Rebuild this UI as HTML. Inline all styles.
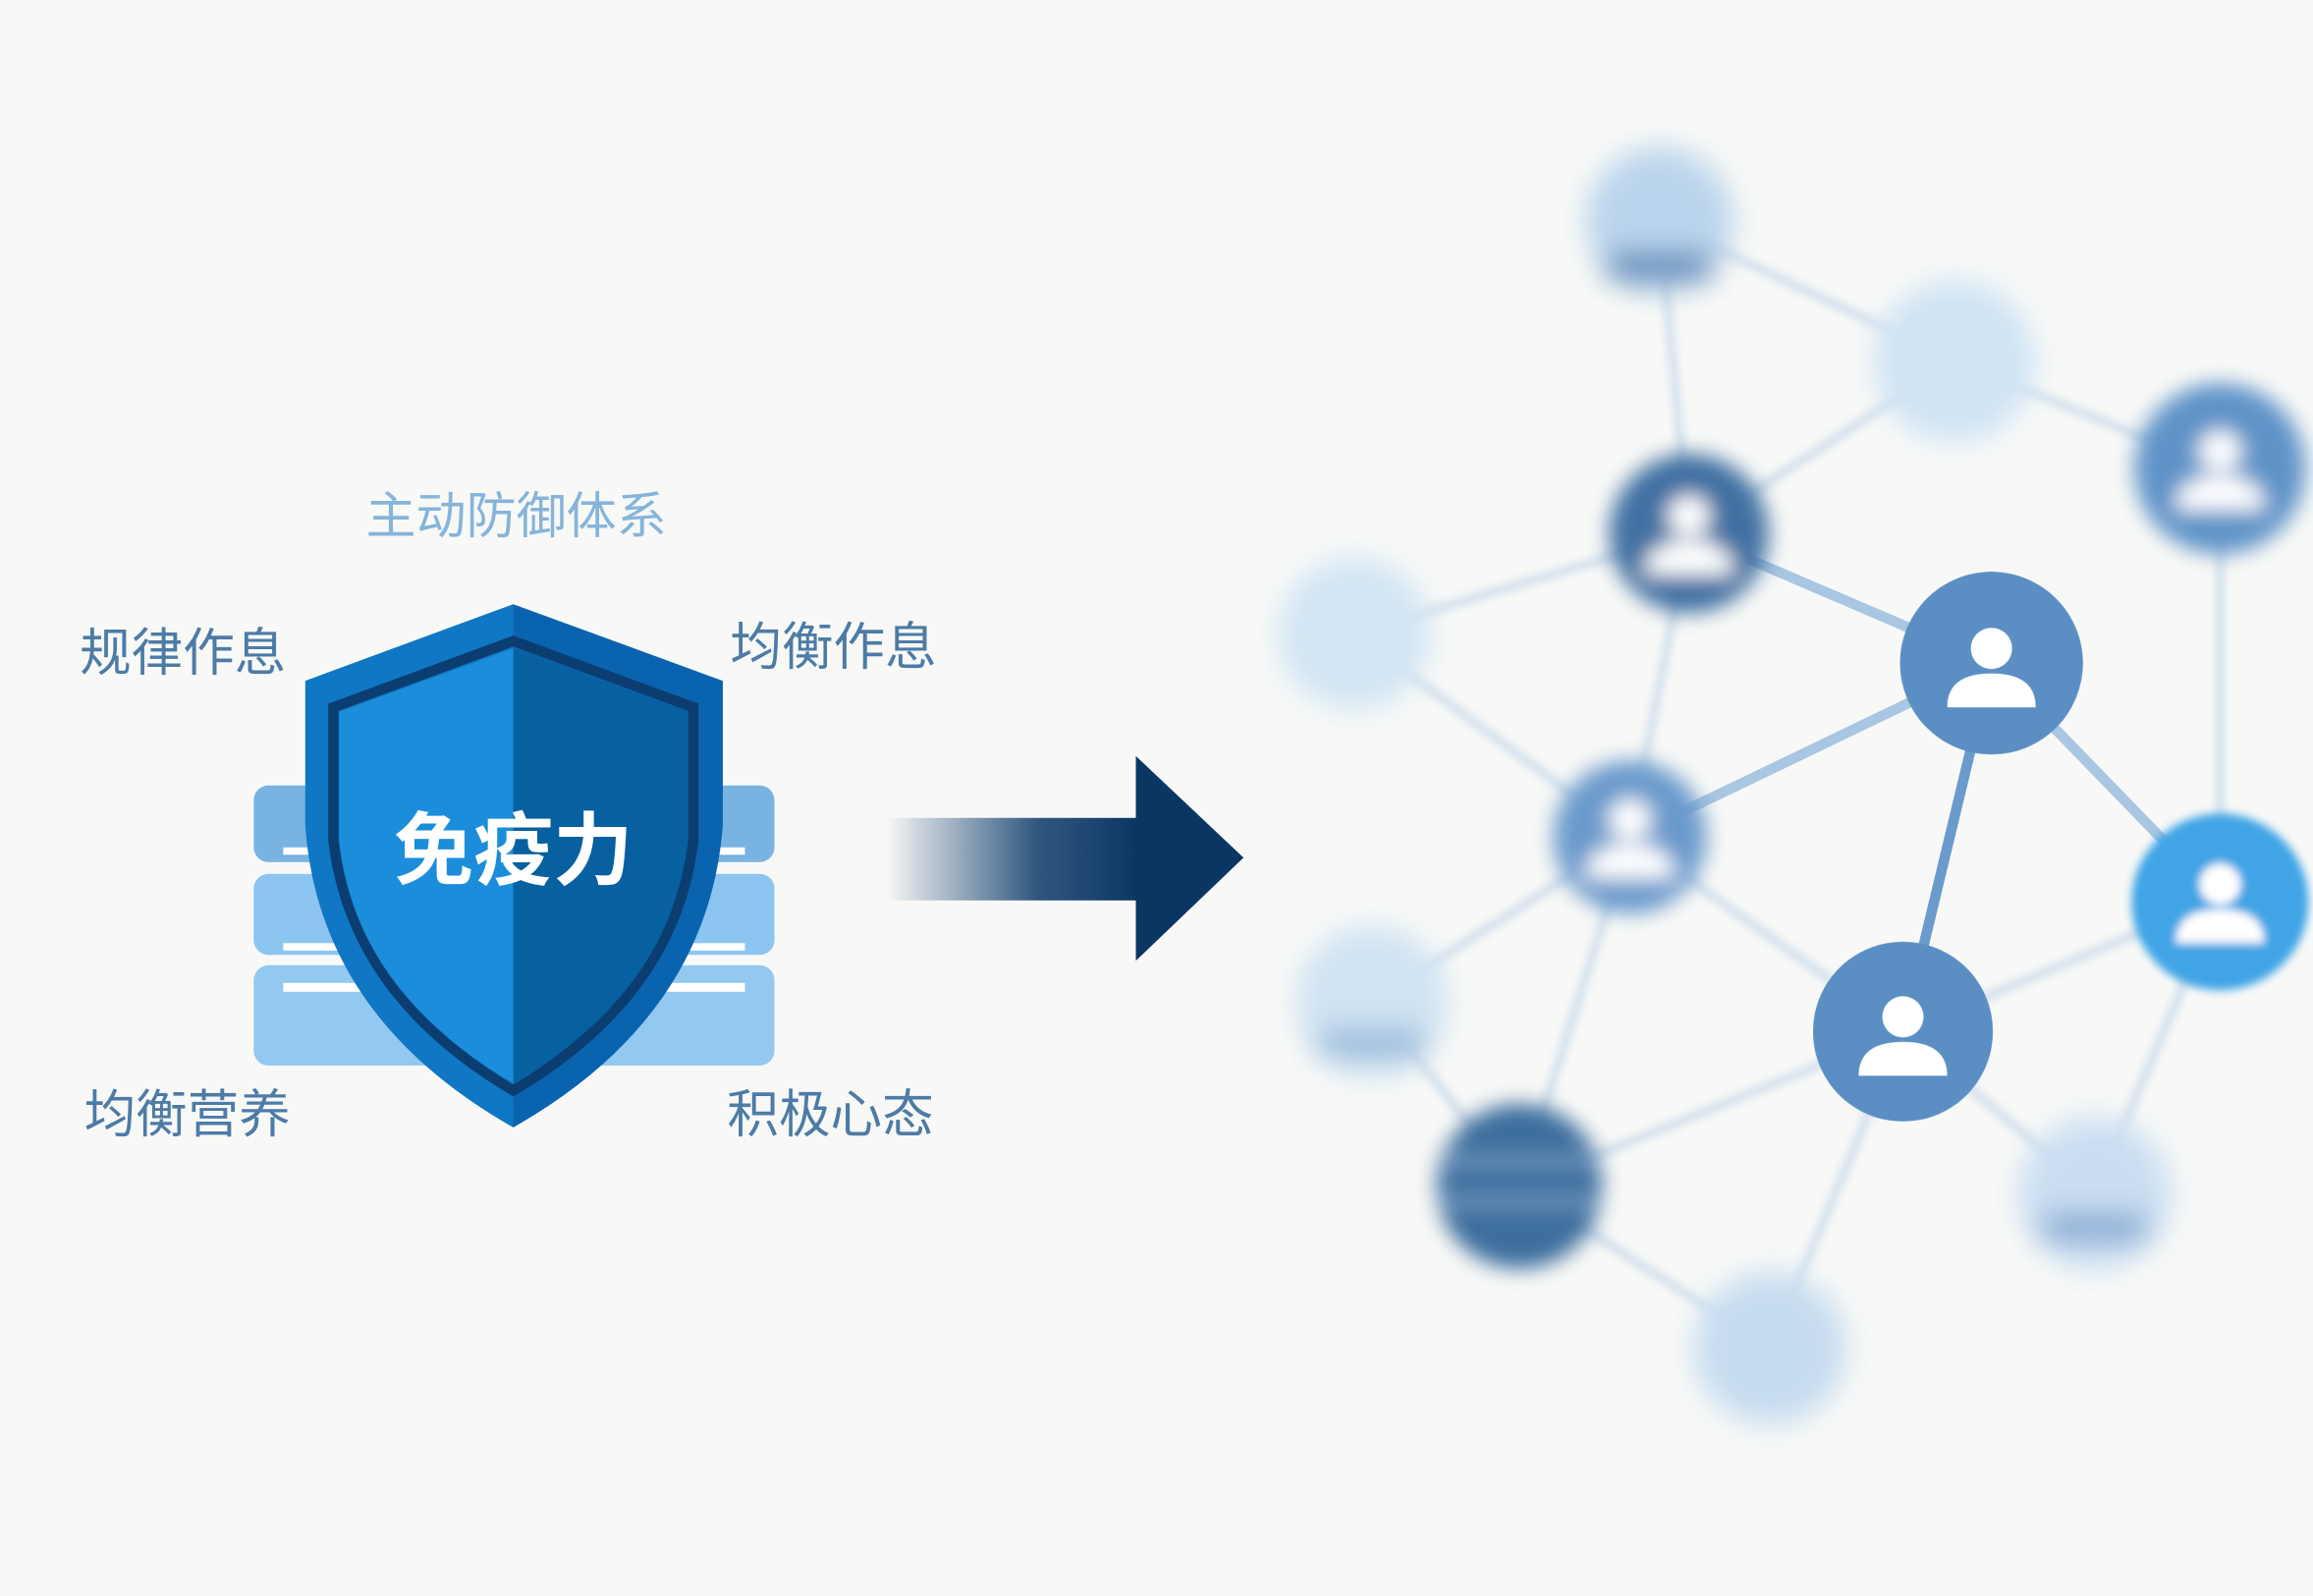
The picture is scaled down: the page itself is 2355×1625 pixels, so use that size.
<!DOCTYPE html>
<html><head><meta charset="utf-8"><style>
html,body{margin:0;padding:0;background:#f8f9f7;}
svg{display:block;}
text{font-family:"Liberation Sans","Noto Sans CJK SC",sans-serif;}
</style></head><body>
<svg width="2355" height="1625" viewBox="0 0 1568 1083" preserveAspectRatio="none" xmlns="http://www.w3.org/2000/svg">
<defs>
<filter id="b1" x="-50%" y="-50%" width="200%" height="200%"><feGaussianBlur stdDeviation="3"/></filter>
<filter id="b2" x="-50%" y="-50%" width="200%" height="200%"><feGaussianBlur stdDeviation="7"/></filter>
<filter id="b3" x="-50%" y="-50%" width="200%" height="200%"><feGaussianBlur stdDeviation="10"/></filter>
<linearGradient id="ag" x1="0" x2="1"><stop offset="0" stop-color="#0d3a6a" stop-opacity="0"/><stop offset="0.6" stop-color="#0d3a6a" stop-opacity="0.85"/><stop offset="1" stop-color="#0b3663"/></linearGradient>
<g id="person"><circle cx="0" cy="-12" r="14" fill="#fff"/><path d="M-30,28 Q-30,5 0,5 Q30,5 30,28 Z" fill="#fff"/></g>
</defs>
<rect width="1568" height="1083" fill="#f8f9f7"/>
<text x="248" y="362" font-size="34" fill="#86b4da">主动防御体系</text>
<text x="54" y="455" font-size="35" fill="#4d7ba6">规律作息</text>
<text x="495" y="451" font-size="35" fill="#4d7ba6">均衡作息</text>
<text x="57" y="768" font-size="35" fill="#4d7ba6">均衡营养</text>
<text x="493" y="768" font-size="35" fill="#4d7ba6">积极心态</text>
<g>
<rect x="172" y="533" width="353" height="52" rx="10" fill="#78b3e2"/>
<rect x="172" y="593" width="353" height="55" rx="10" fill="#8cc5f0"/>
<rect x="172" y="655" width="353" height="68" rx="10" fill="#93c8f0"/>
<rect x="192" y="575" width="313" height="5" fill="#fff"/>
<rect x="192" y="640" width="313" height="5" fill="#fff"/>
<rect x="192" y="667" width="313" height="6" fill="#fff"/>
</g>
<path d="M348,410 L490,462 L490,560 Q480,690 348,765 Q216,690 207,560 L207,462 Z" fill="#0a63ae"/>
<path d="M348,410 L348,765 Q216,690 207,560 L207,462 Z" fill="#1077c4"/>
<path d="M348,435 L470,480 L470,570 Q458,675 348,740 Q238,675 226,570 L226,480 Z" fill="none" stroke="#0b3d70" stroke-width="7"/>
<path d="M348,440 L348,735 Q240,672 230,570 L230,483 Z" fill="#1b8ddb"/>
<path d="M348,440 L466,483 L466,570 Q456,672 348,735 Z" fill="#07609f"/>
<text x="348" y="596" font-size="54" font-weight="bold" fill="#fff" text-anchor="middle">免疫力</text>
<rect x="600" y="555" width="172" height="56" fill="url(#ag)"/>
<path d="M770,513 L843,582 L770,652 Z" fill="#0b3663"/>
<g stroke="#d2dfec" stroke-width="6" stroke-linecap="round" filter="url(#b1)">
<line x1="1125" y1="150" x2="1325" y2="245"/>
<line x1="1125" y1="150" x2="1145" y2="362"/>
<line x1="1325" y1="245" x2="1145" y2="362"/>
<line x1="1325" y1="245" x2="1505" y2="318"/>
<line x1="918" y1="430" x2="1145" y2="362"/>
<line x1="918" y1="430" x2="1105" y2="568"/>
<line x1="1145" y1="362" x2="1105" y2="568"/>
<line x1="1105" y1="568" x2="930" y2="680"/>
<line x1="1105" y1="568" x2="1030" y2="805"/>
<line x1="1105" y1="568" x2="1290" y2="700"/>
<line x1="1030" y1="805" x2="1290" y2="700"/>
<line x1="1030" y1="805" x2="1200" y2="915"/>
<line x1="930" y1="680" x2="1030" y2="805"/>
<line x1="1290" y1="700" x2="1200" y2="915"/>
<line x1="1290" y1="700" x2="1420" y2="810"/>
<line x1="1505" y1="318" x2="1505" y2="610"/>
<line x1="1505" y1="610" x2="1290" y2="700"/>
<line x1="1505" y1="610" x2="1420" y2="810"/>
</g>
<g stroke="#a9c6e2" stroke-width="7" stroke-linecap="round">
<line x1="1145" y1="362" x2="1350" y2="450"/>
<line x1="1105" y1="568" x2="1350" y2="450"/>
<line x1="1350" y1="450" x2="1505" y2="610"/>
</g>
<line x1="1350" y1="450" x2="1290" y2="700" stroke="#6a9bcc" stroke-width="7"/>
<g filter="url(#b3)">
<circle cx="1125" cy="150" r="50" fill="#b9d4ec"/>
<rect x="1090" y="172" width="70" height="18" fill="#4f80b4"/>
<circle cx="1325" cy="245" r="55" fill="#cfe3f4"/>
<circle cx="918" cy="430" r="52" fill="#d2e5f4"/>
<circle cx="930" cy="680" r="52" fill="#d0e3f3"/>
<rect x="895" y="700" width="70" height="16" fill="#88b0d6"/>
<circle cx="1200" cy="915" r="52" fill="#c6dcf0"/>
<circle cx="1420" cy="810" r="52" fill="#cadef2"/>
<rect x="1385" y="825" width="70" height="16" fill="#6f9ccb"/>
</g>
<g filter="url(#b2)">
<circle cx="1505" cy="318" r="58" fill="#5e93c8"/>
<use href="#person" x="1505" y="318"/>
<circle cx="1145" cy="362" r="54" fill="#3f70a2"/>
<use href="#person" x="1145" y="362"/>
<circle cx="1105" cy="568" r="52" fill="#6a9acc"/>
<use href="#person" x="1105" y="568"/>
<circle cx="1030" cy="805" r="56" fill="#3d6e9e"/>
<rect x="975" y="785" width="110" height="6" fill="#7aa0c8"/>
<rect x="975" y="812" width="110" height="6" fill="#7aa0c8"/>
</g>
<g filter="url(#b1)">
<circle cx="1505" cy="612" r="60" fill="#40a4e6"/>
<use href="#person" x="1505" y="612"/>
</g>
<circle cx="1350" cy="450" r="62" fill="#5b8fc4"/>
<use href="#person" x="1350" y="452"/>
<circle cx="1290" cy="700" r="61" fill="#5b8fc4"/>
<use href="#person" x="1290" y="702"/>
</svg>
</body></html>
